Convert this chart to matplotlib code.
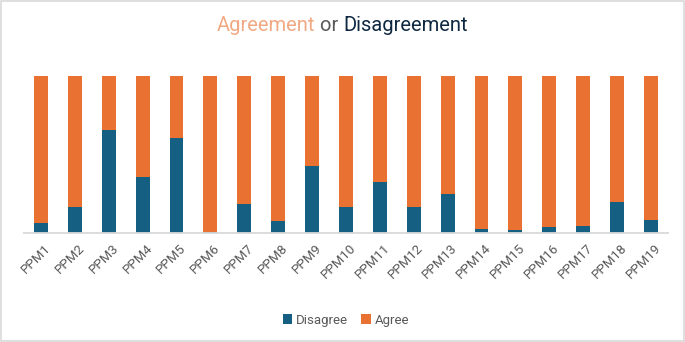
import numpy as np
import matplotlib
matplotlib.use('Agg')
import matplotlib.pyplot as plt
import matplotlib.transforms as mtransforms

plt.rcParams['font.family'] = ['Roboto', 'DejaVu Sans']

labels = ['PPM%d' % i for i in range(1, 20)]
disagree = [0.063, 0.167, 0.653, 0.355, 0.605, 0.011, 0.184, 0.080, 0.425, 0.165,
            0.323, 0.167, 0.249, 0.027, 0.019, 0.038, 0.044, 0.199, 0.085]
agree = [1 - d for d in disagree]

blue = '#156082'
orange = '#E97132'

fig = plt.figure(figsize=(6.85, 3.42), dpi=100)
ax = fig.add_axes([0.035, 0.318, 0.94, 0.461])

x = np.arange(len(labels))
ax.bar(x, disagree, width=0.41, color=blue, label='Disagree', edgecolor='none')
ax.bar(x, agree, width=0.41, bottom=disagree, color=orange, label='Agree', edgecolor='none')

ax.set_xlim(-0.5, len(labels) - 0.5)
ax.set_ylim(0, 1)
ax.set_yticks([])
for s in ['top', 'right', 'left']:
    ax.spines[s].set_visible(False)
ax.spines['bottom'].set_color('#D9D9D9')
ax.spines['bottom'].set_linewidth(1.3)
ax.set_xticks(x)
ax.set_xticklabels(labels, rotation=45, ha='right', rotation_mode='anchor',
                   fontsize=9.5, color='#595959')
ax.tick_params(axis='x', length=0, pad=6)
shift = mtransforms.ScaledTranslation(3 / 100, 0, fig.dpi_scale_trans)
for lbl in ax.get_xticklabels():
    lbl.set_transform(lbl.get_transform() + shift)

leg = fig.legend(loc='center', bbox_to_anchor=(0.505, 0.064), ncol=2, frameon=False,
                 fontsize=9.5, handlelength=0.7, handleheight=0.7, handletextpad=0.3,
                 columnspacing=1.0)
for t in leg.get_texts():
    t.set_color('#595959')

# title in three colours
parts = [('Agreement', '#F1A983'), (' or ', '#595959'), ('Disagreement', '#0E2841')]
fig.canvas.draw()
r = fig.canvas.get_renderer()
texts = [fig.text(0, 0.925, s, color=c, fontsize=14.5, va='center') for s, c in parts]
widths = [t.get_window_extent(r).width / fig.bbox.width for t in texts]
xpos = 0.5 - sum(widths) / 2
for t, w in zip(texts, widths):
    t.set_x(xpos)
    xpos += w

fig.patches.append(plt.Rectangle((0.002, 0.003), 0.996, 0.994, transform=fig.transFigure,
                                 fill=False, edgecolor='#D9D9D9', linewidth=1.2))

plt.savefig('out.png', dpi=100)
